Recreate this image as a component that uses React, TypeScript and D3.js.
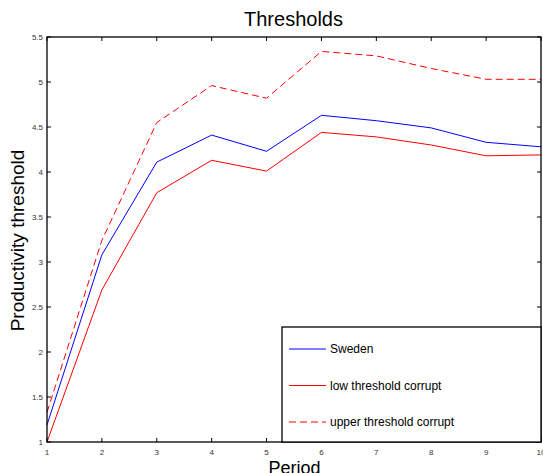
import React from "react";
import * as d3 from "d3";

const periods = [1, 2, 3, 4, 5, 6, 7, 8, 9, 10];
const sweden = [1.19, 3.08, 4.11, 4.41, 4.23, 4.63, 4.57, 4.49, 4.33, 4.28];
const lowCorrupt = [1.0, 2.69, 3.77, 4.13, 4.01, 4.44, 4.39, 4.3, 4.18, 4.19];
const upperCorrupt = [1.33, 3.24, 4.55, 4.96, 4.82, 5.34, 5.29, 5.15, 5.03, 5.03];
const yTicks = [1, 1.5, 2, 2.5, 3, 3.5, 4, 4.5, 5, 5.5];
const xTicks = [1, 2, 3, 4, 5, 6, 7, 8, 9, 10];
const legendItems = [
  { label: "Sweden", color: "#0000ff", dash: "" },
  { label: "low threshold corrupt", color: "#ff0000", dash: "" },
  { label: "upper threshold corrupt", color: "#ff0000", dash: "7,4" },
];

const W = 543;
const H = 473;
const L = 47, R = 541, T = 37, B = 442;
const font = "'Liberation Sans', Arial, Helvetica, sans-serif";

export default function App() {
  const x = d3.scaleLinear().domain([1, 10]).range([L, R]);
  const y = d3.scaleLinear().domain([1, 5.5]).range([B, T]);
  const line = d3
    .line<number>()
    .x((_, i) => x(periods[i]))
    .y((d) => y(d));
  const series = [
    { data: sweden, color: "#0000ff", dash: "" },
    { data: lowCorrupt, color: "#ff0000", dash: "" },
    { data: upperCorrupt, color: "#ff0000", dash: "7,4" },
  ];
  const tl = 4;
  return (
    <div style={{ position: "absolute", left: 0, top: 0 }}>
      <svg width={W} height={H} style={{ display: "block", background: "#fff" }} fontFamily={font}>
        <rect x={0} y={0} width={W} height={H} fill="#fff" />
        {series.map((s, i) => (
          <path
            key={i}
            d={line(s.data) || ""}
            fill="none"
            stroke={s.color}
            strokeWidth={1}
            strokeDasharray={s.dash || undefined}
          />
        ))}
        {/* ticks */}
        {xTicks.map((t) => (
          <g key={"x" + t}>
            <line x1={x(t)} x2={x(t)} y1={B} y2={B - tl} stroke="#000" />
            <line x1={x(t)} x2={x(t)} y1={T} y2={T + tl} stroke="#000" />
            <text x={x(t)} y={455} fontSize={8} textAnchor="middle" fill="#333">
              {t}
            </text>
          </g>
        ))}
        {yTicks.map((t) => (
          <g key={"y" + t}>
            <line x1={L} x2={L + tl} y1={y(t)} y2={y(t)} stroke="#000" />
            <line x1={R} x2={R - tl} y1={y(t)} y2={y(t)} stroke="#000" />
            <text x={43} y={y(t) + 3} fontSize={8} textAnchor="end" fill="#333">
              {t}
            </text>
          </g>
        ))}
        <rect x={L} y={T} width={R - L} height={B - T} fill="none" stroke="#000" strokeWidth={1.3} />
        {/* legend */}
        <rect x={282} y={327} width={259} height={115} fill="#fff" stroke="#000" strokeWidth={1.3} />
        {legendItems.map((it, i) => (
          <g key={it.label}>
            <line
              x1={289}
              x2={326}
              y1={349 + i * 36.5}
              y2={349 + i * 36.5}
              stroke={it.color}
              strokeWidth={1}
              strokeDasharray={it.dash || undefined}
            />
            <text x={330} y={349 + i * 36.5 + 4} fontSize={12} fill="#000">
              {it.label}
            </text>
          </g>
        ))}
        <text x={293.5} y={26} fontSize={20} textAnchor="middle" fill="#000">
          Thresholds
        </text>
        <text
          transform={`translate(24,240.5) rotate(-90)`}
          fontSize={19}
          textAnchor="middle"
          fill="#000"
        >
          Productivity threshold
        </text>
        <text x={294.5} y={474} fontSize={18} textAnchor="middle" fill="#000">
          Period
        </text>
      </svg>
    </div>
  );
}
